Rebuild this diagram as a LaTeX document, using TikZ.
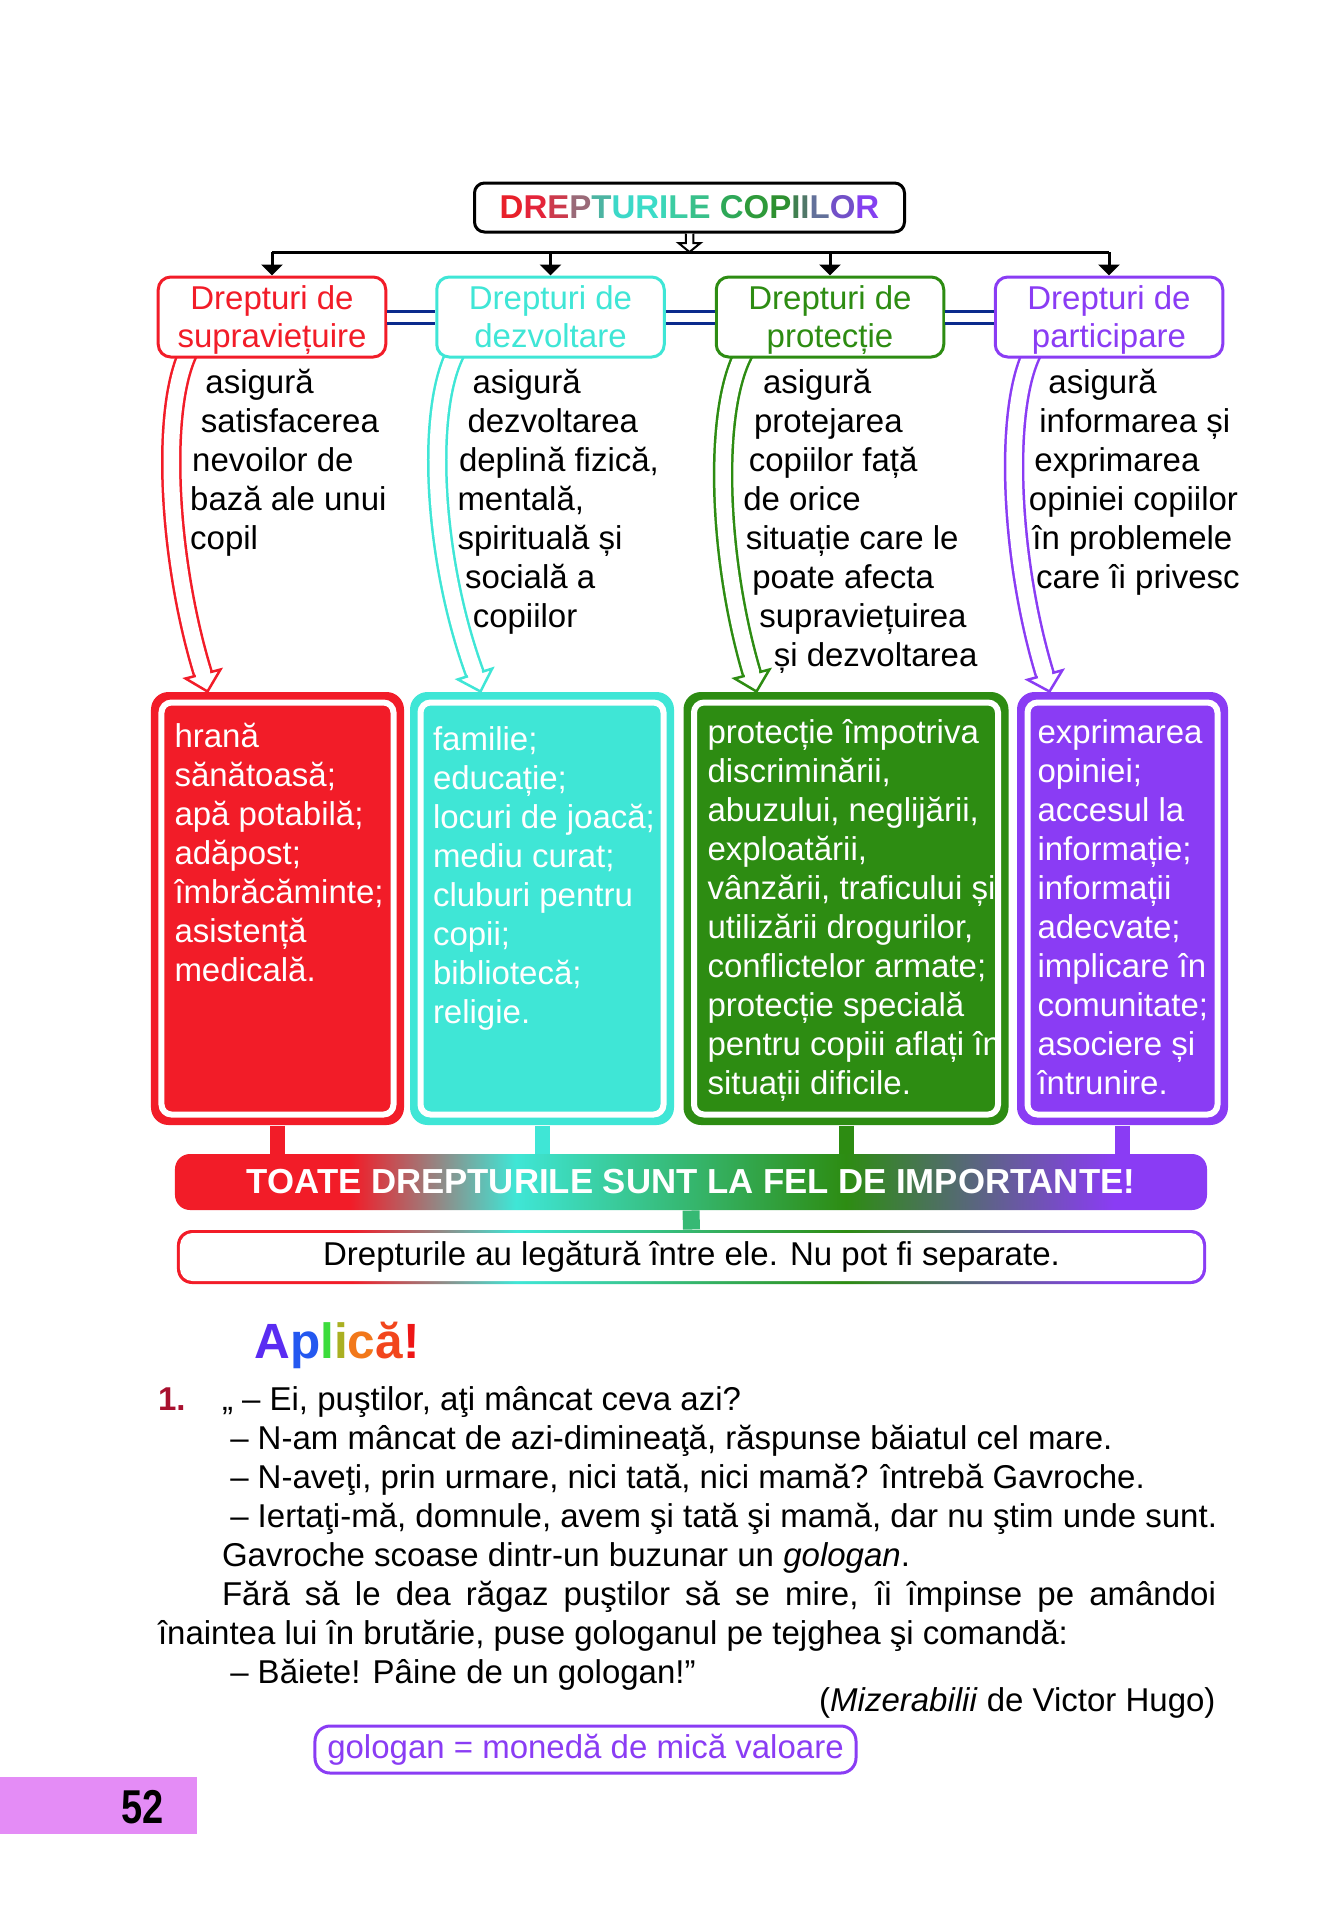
\documentclass[tikz,border=0pt]{standalone}
\usepackage{fontspec}
\setmainfont{Liberation Sans}
\usepackage{graphicx}
\usetikzlibrary{arrows.meta, calc, backgrounds}

\definecolor{rougeD}{HTML}{F21C28}
\definecolor{cyanD}{HTML}{3FE6D6}
\definecolor{vertD}{HTML}{2D8C12}
\definecolor{violetD}{HTML}{8A3CF4}
\definecolor{bleuLien}{HTML}{0B2A8C}
\definecolor{rosePage}{HTML}{E48CF6}
\definecolor{rougeNum}{HTML}{A8102E}

%% one gradient for the banner and the frame under it
\pgfdeclarehorizontalshading{arcDroits}{100bp}{color(0bp)=(rougeD); color(33.5bp)=(rougeD);
  color(41.5bp)=(cyanD); color(57.5bp)=(vertD); color(70.5bp)=(violetD); color(100bp)=(violetD)}

%% hollow curved arrow: colour, start, control 1, control 2, head base, tip
\newcommand{\flecheCreuse}[6]{%
  \draw[creuse=#1] #2 .. controls #3 and #4 .. #5;
  \filldraw[fill=white, draw=#1, line width=1pt, line join=miter]
    ($#5!7.2pt!90:#6$) -- #6 -- ($#5!7.2pt!-90:#6$) -- cycle;
  \draw[white, line width=5.8pt] ($#5!-1.5pt!#6$) -- ($#5!1.2pt!#6$);
}

\tikzset{
  %% -- boxes --
  titreBoite/.style = {draw=black, line width=1.2pt, rounded corners=4pt, fill=white,
                       minimum width=172pt, minimum height=19.6pt, inner sep=0pt,
                       font=\fontsize{13.2}{15.6}\selectfont\bfseries},
  entete/.style     = {draw=#1, text=#1, fill=white, line width=1.2pt, rounded corners=5pt,
                       minimum width=91pt, minimum height=32pt, inner sep=0pt, align=center,
                       text height=25.84pt, text depth=1.84pt,
                       font=\fontsize{13.2}{15.2}\selectfont},
  boite/.style      = {fill=#1, rounded corners=7pt, minimum height=173.2pt, inner sep=0pt},
  filet/.style      = {draw=white, line width=2.4pt, rounded corners=4pt},
  bandeau/.style    = {shading=arcDroits, rounded corners=6pt, minimum width=412.8pt,
                       minimum height=22.4pt, inner sep=0pt, text=white,
                       font=\fontsize{13.9}{16}\selectfont\bfseries},
  cadre/.style      = {shading=arcDroits, rounded corners=6pt, minimum width=411.6pt,
                       minimum height=21.6pt, inner sep=0pt},
  %% -- text (base = last line of the node) --
  colonne/.style    = {anchor=base west, align=left, inner sep=0pt},
  liste/.style      = {colonne, text=white},
  %% -- connectors --
  flecheNoire/.style = {-{Triangle[length=4.4pt, width=8.4pt]}, line width=1.2pt},
  liaison/.style    = {draw=bleuLien, line width=1.2pt, double=white, double distance=3.6pt},
  creuse/.style     = {draw=#1, line width=1pt, double=white, double distance=6.2pt},
  tige/.style       = {line width=6pt},
}

\begin{document}
\begin{tikzpicture}[x=0.4pt, y=-0.4pt, font=\fontsize{13.2}{15.6}\selectfont]
\useasboundingbox (0,0) rectangle (1339,1929);

%% title and the four kinds of rights
\node[titreBoite] (titre) at (689.5,207.5)
  {\textcolor[HTML]{E8202A}{D}\textcolor[HTML]{E4243A}{R}\textcolor[HTML]{CC3A4C}{E}%
   \textcolor[HTML]{9A6A78}{P}\textcolor[HTML]{4CB4A2}{T}\textcolor[HTML]{3CD8C8}{U}%
   \textcolor[HTML]{3CDCC8}{R}\textcolor[HTML]{3CD6B8}{I}\textcolor[HTML]{3CCCA2}{L}%
   \textcolor[HTML]{38C08A}{E} \textcolor[HTML]{2EA858}{C}\textcolor[HTML]{2E9A3A}{O}%
   \textcolor[HTML]{2E9030}{P}\textcolor[HTML]{408050}{I}\textcolor[HTML]{507868}{I}%
   \textcolor[HTML]{62709A}{L}\textcolor[HTML]{7250C8}{O}\textcolor[HTML]{8440F0}{R}};

\coordinate (barre) at (689.5,252);
\coordinate (pied) at (689.5,243);

\node[entete=rougeD]  (h1) at (272,317)   {Drepturi de\\supraviețuire};
\node[entete=cyanD]   (h2) at (550.5,317) {Drepturi de\\dezvoltare};
\node[entete=vertD]   (h3) at (830,317)   {Drepturi de\\protecție};
\node[entete=violetD] (h4) at (1109,317)  {Drepturi de\\participare};

\draw[line width=1.2pt] (h1.north |- barre) -- (h4.north |- barre);
\foreach \h in {h1,h2,h3,h4}
  \draw[flecheNoire] (\h.north |- barre) -- (\h.north);
\draw[line width=0.8pt, fill=white] ([xshift=-1.5pt]titre.south) -- ([xshift=-1.5pt]titre.south |- pied)
  -- ([xshift=-4.4pt]titre.south |- pied) -- (barre) -- ([xshift=4.4pt]titre.south |- pied)
  -- ([xshift=1.5pt]titre.south |- pied) -- ([xshift=1.5pt]titre.south);

\draw[liaison] (h1.east) -- (h2.west);
\draw[liaison] (h2.east) -- (h3.west);
\draw[liaison] (h3.east) -- (h4.west);

%% what each kind ensures
\node[colonne] (t1) at (189.7,549)
  {\hspace*{6.1pt}asigură\\\hspace*{4.3pt}satisfacerea\\\hspace*{0.8pt}nevoilor de\\bază ale unui\\copil};
\node[colonne] (t2) at (457,627)
  {\hspace*{6pt}asigură\\\hspace*{4pt}dezvoltarea\\\hspace*{0.6pt}deplină fizică,\\mentală,\\spirituală și\\%
   \hspace*{3pt}socială a\\\hspace*{6.1pt}copiilor};
\node[colonne] (t3) at (742.8,666)
  {\hspace*{7.9pt}asigură\\\hspace*{4.3pt}protejarea\\\hspace*{2.2pt}copiilor față\\de orice\\%
   \hspace*{1pt}situație care le\\\hspace*{3.6pt}poate afecta\\\hspace*{6.4pt}supraviețuirea\\%
   \hspace*{12.2pt}și dezvoltarea};
\node[colonne] (t4) at (1028.4,588)
  {\hspace*{7.8pt}asigură\\\hspace*{4.2pt}informarea și\\\hspace*{2.2pt}exprimarea\\opiniei copiilor\\%
   \hspace*{1.4pt}în problemele\\\hspace*{2.9pt}care îi privesc};

%% content boxes
\node[boite=rougeD,  minimum width=101.2pt] (b1) at (277.5,908.5) {};
\node[boite=cyanD,   minimum width=105.6pt] (b2) at (542,908.5)   {};
\node[boite=vertD,   minimum width=130pt]   (b3) at (846,908.5)   {};
\node[boite=violetD, minimum width=84.4pt]  (b4) at (1122.5,908.5) {};
\foreach \b in {b1,b2,b3,b4}
  \draw[filet] ([shift={(4.4pt,-4.4pt)}]\b.north west) rectangle ([shift={(-4.4pt,4.4pt)}]\b.south east);

\node[liste] (l1) at (174,981)
  {hrană\\sănătoasă;\\apă potabilă;\\adăpost;\\îmbrăcăminte;\\asistență\\medicală.};
\node[liste] (l2) at (432.5,1023)
  {familie;\\educație;\\locuri de joacă;\\mediu curat;\\cluburi pentru\\copii;\\bibliotecă;\\religie.};
\node[liste] (l3) at (707,1094.5)
  {protecție împotriva\\discriminării,\\abuzului, neglijării,\\exploatării,\\vânzării, traficului și\\%
   utilizării drogurilor,\\conflictelor armate;\\protecție specială\\pentru copiii aflați în\\situații dificile.};
\node[liste] (l4) at (1037,1094.5)
  {exprimarea\\opiniei;\\accesul la\\informație;\\informații\\adecvate;\\implicare în\\comunitate;\\%
   asociere și\\întrunire.};

%% all rights together
\node[bandeau] (bandeau) at (691,1182) {TOATE DREPTURILE SUNT LA FEL DE IMPORTANTE!};
\draw[tige, rougeD]  (b1.south) -- (b1.south |- bandeau.north);
\draw[tige, cyanD]   (b2.south) -- (b2.south |- bandeau.north);
\draw[tige, vertD]   (b3.south) -- (b3.south |- bandeau.north);
\draw[tige, violetD] (b4.south) -- (b4.south |- bandeau.north);

\node[cadre] (cadre) at (691.5,1257) {};
\draw[tige, cyanD!50!vertD, line width=6.8pt] (bandeau.south) -- (cadre.north);
\node[fill=white, rounded corners=5pt, minimum width=409.2pt, minimum height=19.2pt, inner sep=0pt]
  (legatura) at (cadre.center) {Drepturile au legătură între ele. Nu pot fi separate.};

%% exercise
\node[anchor=base west, inner sep=0pt, font=\fontsize{19.8}{22}\selectfont\bfseries] (aplica) at (254,1358)
  {\textcolor[HTML]{5A2CF2}{A}\textcolor[HTML]{2458F0}{p}\textcolor[HTML]{3CDC3C}{l}%
   \textcolor[HTML]{AAB022}{i}\textcolor[HTML]{F2781A}{c}\textcolor[HTML]{F2461C}{ă}\textcolor[HTML]{EE1616}{!}};

\node[colonne] (citat) at (157.5,1683)
  {\makebox[25.6pt][l]{\textbf{\color{rougeNum}1.}}„ – Ei, puştilor, aţi mâncat ceva azi?\\
   \hspace*{28.9pt}– N-am mâncat de azi-dimineaţă, răspunse băiatul cel mare.\\
   \hspace*{28.9pt}– N-aveţi, prin urmare, nici tată, nici mamă? întrebă Gavroche.\\
   \hspace*{28.9pt}– Iertaţi-mă, domnule, avem şi tată şi mamă, dar nu ştim unde sunt.\\
   \hspace*{25.6pt}Gavroche scoase dintr-un buzunar un \textit{gologan}.\\
   \hspace*{25.6pt}\makebox[397.6pt][s]{Fără să le dea răgaz puştilor să se mire, îi împinse pe amândoi}\\
   înaintea lui în brutărie, puse gologanul pe tejghea şi comandă:\\
   \hspace*{28.9pt}– Băiete! Pâine de un gologan!”};
\node[anchor=base east, inner sep=0pt] (sursa) at (1216,1711) {(\textit{Mizerabilii} de Victor Hugo)};

\node[draw=violetD, text=violetD, line width=1.2pt, rounded corners=6pt, minimum width=216.4pt,
      minimum height=18.8pt, inner sep=0pt] (glosar) at (585.5,1749.5) {gologan = monedă de mică valoare};

\fill[rosePage] (0,1777) rectangle (197,1834);
\node[inner sep=0pt, font=\fontsize{19}{20}\selectfont\bfseries] (pagina) at (142.5,1807) {\scalebox{0.8}[1]{52}};

%% hollow arrows from each kind to its box
\coordinate (d1) at ($(h1.south west)+(32,-7)$);
\coordinate (d2) at ($(h2.south west)+(21,-7)$);
\coordinate (d3) at ($(h3.south west)+(30,-7)$);
\coordinate (d4) at ($(h4.south west)+(39,-7)$);
\coordinate (p1) at ($(b1.north west)+(57,0)$);
\coordinate (p2) at ($(b2.north west)+(71,0)$);
\coordinate (p3) at ($(b3.north west)+(73.5,0)$);
\coordinate (p4) at ($(b4.north west)+(33,0)$);
\begin{scope}[on background layer]
  \fill[white] (0,0) rectangle (1339,1929);
  \flecheCreuse{rougeD}{(d1)}{(160,410)}{(168,560)}{(203,674)}{(p1)}
  \flecheCreuse{cyanD}{(d2)}{(425,410)}{(433,560)}{(475,674)}{(p2)}
  \flecheCreuse{vertD}{(d3)}{(712,410)}{(718,560)}{(752,674)}{(p3)}
  \flecheCreuse{violetD}{(d4)}{(1003,410)}{(1010,560)}{(1045,675)}{(p4)}
\end{scope}

\end{tikzpicture}
\end{document}
